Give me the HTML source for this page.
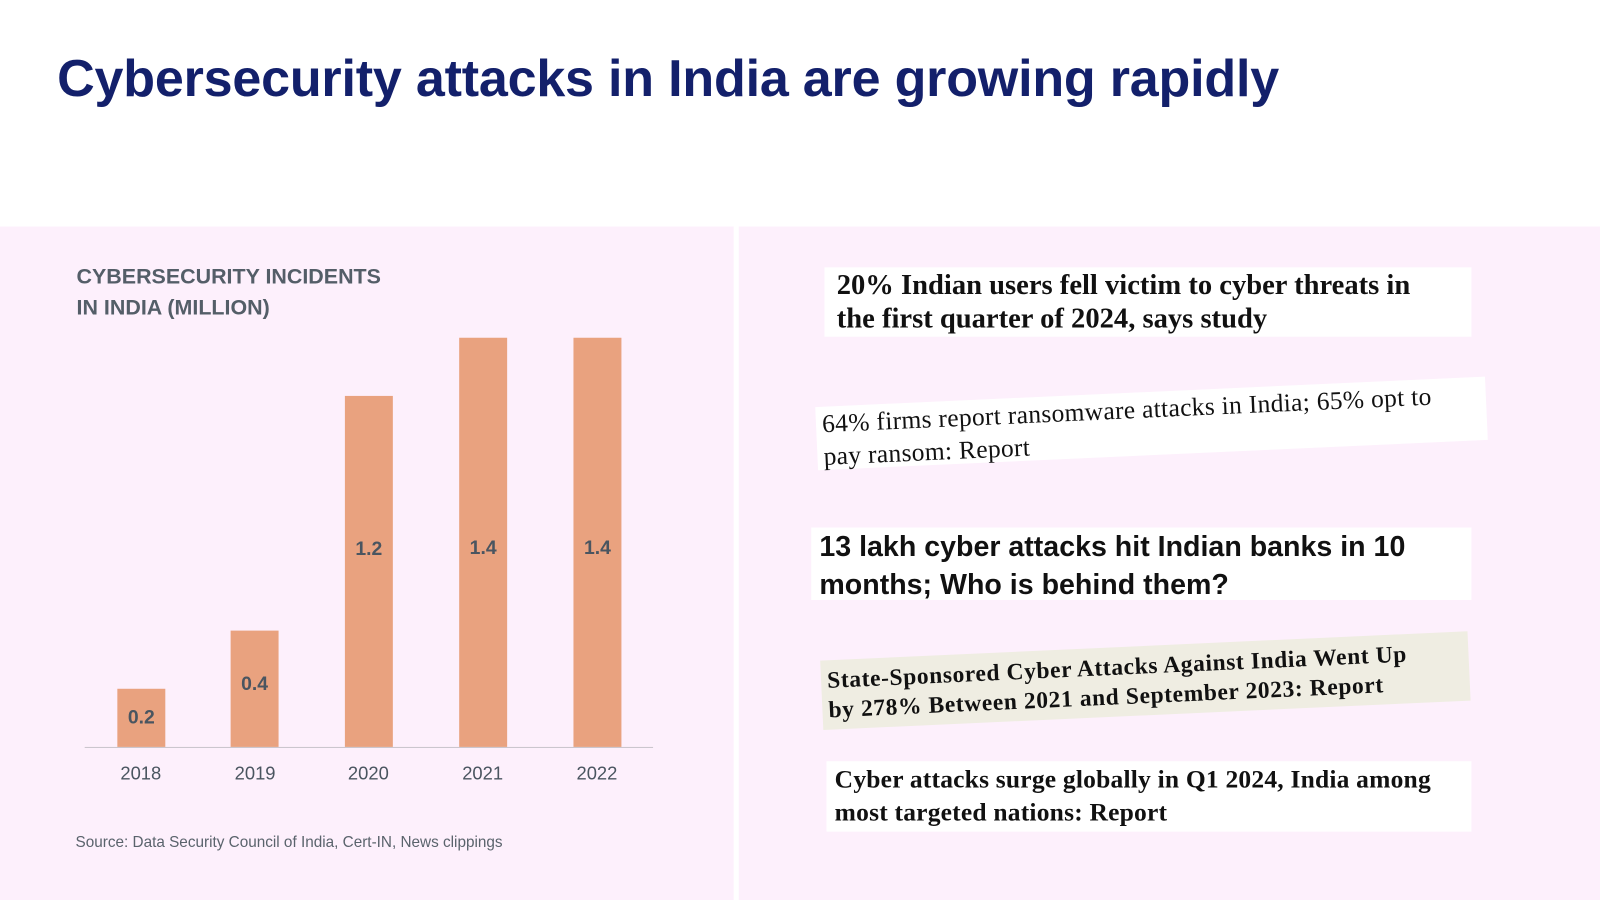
<!DOCTYPE html>
<html style="overflow:hidden;height:900px"><head><meta charset="utf-8"><style>
body{margin:0;width:1600px;height:900px;background:#fdf0fc;position:relative;overflow:hidden;font-family:"Liberation Sans",sans-serif}
#w{position:absolute;left:0;top:0;width:1568px;height:882px;overflow:hidden;transform:scale(1.0204);transform-origin:0 0}
.abs{position:absolute}
.t{left:56px;top:47px;font-size:51px;font-weight:bold;color:#13206b;letter-spacing:-0.2px}
.bar{position:absolute;background:#e9a27f;width:47px}
.bar span{position:absolute;width:100%;text-align:center;font-weight:bold;font-size:19px;color:#4a5560}
.yr{position:absolute;top:748px;font-size:18px;color:#4a5560;width:80px;text-align:center}
.hl{position:absolute;font-family:"Liberation Serif",serif;color:#111;box-sizing:border-box;white-space:nowrap}
</style></head><body><div id="w">
<div class="abs" style="left:0;top:0;width:1700px;height:222px;background:#fff"></div>
<div class="abs" style="left:719px;top:222px;width:5px;height:700px;background:#fff"></div>
<div class="abs t">Cybersecurity attacks in India are growing rapidly</div>
<div class="abs" style="left:75px;top:257px;font-size:21px;font-weight:bold;color:#545e68;line-height:30px">CYBERSECURITY INCIDENTS<br>IN INDIA (MILLION)</div>
<div class="bar" style="left:115px;top:675px;height:57px"><span style="top:18px">0.2</span></div>
<div class="bar" style="left:226px;top:618px;height:114px"><span style="top:42px">0.4</span></div>
<div class="bar" style="left:338px;top:388px;height:344px"><span style="top:140px">1.2</span></div>
<div class="bar" style="left:450px;top:331px;height:401px"><span style="top:196px">1.4</span></div>
<div class="bar" style="left:562px;top:331px;height:401px"><span style="top:196px">1.4</span></div>
<div class="abs" style="left:83px;top:732px;width:557px;height:1px;background:#c9c4cc"></div>
<div class="yr" style="left:98px">2018</div>
<div class="yr" style="left:210px">2019</div>
<div class="yr" style="left:321px">2020</div>
<div class="yr" style="left:433px">2021</div>
<div class="yr" style="left:545px">2022</div>
<div class="abs" style="left:74px;top:817px;font-size:15px;color:#5a636c">Source: Data Security Council of India, Cert-IN, News clippings</div>

<div class="hl" style="left:808px;top:262px;width:634px;height:68px;background:#fff;font-size:28px;line-height:33px;padding:1px 12px;font-weight:bold">20% Indian users fell victim to cyber threats in<br>the first quarter of 2024, says study</div>
<div class="hl" style="left:800px;top:384px;width:657px;height:62px;background:#fff;font-size:25px;line-height:32px;transform:rotate(-2.6deg);padding:2px 6px;letter-spacing:0.3px">64% firms report ransomware attacks in India; 65% opt to<br>pay ransom: Report</div>
<div class="hl" style="left:795px;top:517px;width:647px;height:71px;background:#fff;font-family:'Liberation Sans',sans-serif;font-weight:bold;font-size:28px;line-height:37px;padding:0 8px">13 lakh cyber attacks hit Indian banks in 10<br>months; Who is behind them?</div>
<div class="hl" style="left:805px;top:633px;width:635px;height:68px;background:#efede2;font-size:23px;line-height:29px;font-weight:bold;transform:rotate(-2.6deg);padding:5px 6px;letter-spacing:0.6px">State-Sponsored Cyber Attacks Against India Went Up<br>by 278% Between 2021 and September 2023: Report</div>
<div class="hl" style="left:810px;top:746px;width:632px;height:69px;background:#fff;font-size:25px;line-height:32px;font-weight:bold;padding:3px 8px;letter-spacing:0.2px">Cyber attacks surge globally in Q1 2024, India among<br>most targeted nations: Report</div>
</div></body></html>
